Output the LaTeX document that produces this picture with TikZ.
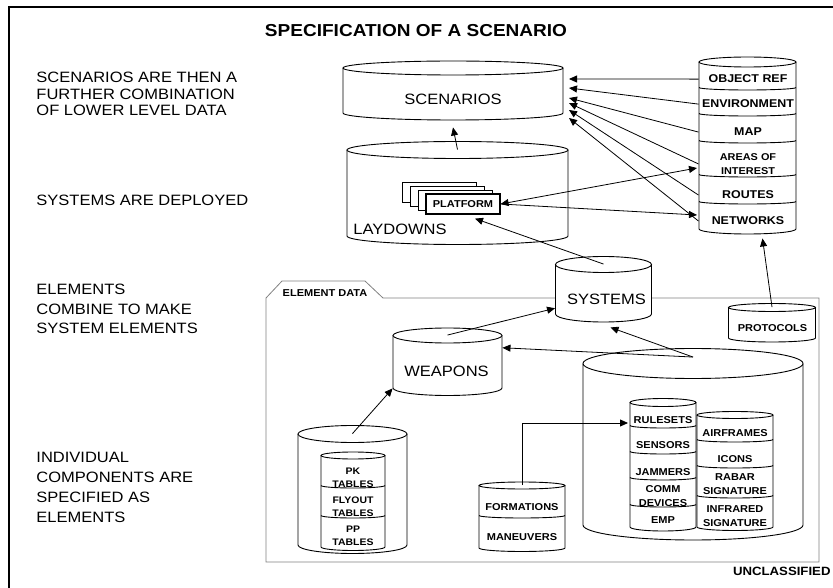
\documentclass[tikz,border=0pt]{standalone}
\usepackage{fontspec}
\setmainfont{Liberation Sans}[FakeStretch=1.1]
\usetikzlibrary{arrows.meta}

% name, cx, rx, top y, bottom y, ry
\newcommand{\dbcyl}[6]{%
  \draw[fill=white] (#2-#3,#4) -- (#2-#3,#5) arc[start angle=180,end angle=0,x radius=#3,y radius=#6] -- (#2+#3,#4);
  \draw[fill=white] (#2,#4) ellipse[x radius=#3,y radius=#6];
  \node[minimum width=2*#3,minimum height=#5-#4] (#1) at (#2,{(#4+#5)/2}) {};
}
% cx, rx, y
\newcommand{\dbsep}[3]{%
  \draw (#1-#2,#3-2.5) arc[start angle=180,end angle=0,x radius=#2,y radius=2.5];
}

\begin{document}
\begin{tikzpicture}[x=1pt, y=-1pt, line width=0.9pt,
  every node/.style={inner sep=0pt},
  note/.style={align=left, anchor=north west, font=\fontsize{15}{#1}\selectfont}, note/.default=20,
  biglbl/.style={font=\fontsize{15}{18}\selectfont},
  lbl/.style={font=\bfseries\fontsize{11.3}{14}\selectfont, align=center},
  sml/.style={font=\bfseries\fontsize{10}{14}\selectfont, align=center},
  arr/.style={-{Triangle[length=8pt,width=7pt]}},
  arrs/.style={{Triangle[length=8pt,width=7pt]}-{Triangle[length=8pt,width=7pt]}}]
\useasboundingbox (0,0) rectangle (833,588);
\draw[line width=1.2pt] (9,588) -- (9,7) -- (833,7);

\node[font=\bfseries\fontsize{17.3}{20}\selectfont, anchor=base] (title) at (416,37) {SPECIFICATION OF A SCENARIO};

% left column
\node[note=16.5] (n1) at (36,72) {SCENARIOS ARE THEN A\\FURTHER COMBINATION\\OF LOWER LEVEL DATA};
\node[note] (n2) at (36,195) {SYSTEMS ARE DEPLOYED};
\node[note=19.5] (n3) at (36,284) {ELEMENTS\\COMBINE TO MAKE\\SYSTEM ELEMENTS};
\node[note=20] (n4) at (36,452) {INDIVIDUAL\\COMPONENTS ARE\\SPECIFIED AS\\ELEMENTS};

% element data folder
\draw[gray, line width=0.8pt] (266,562) -- (266,298) -- (282,281) -- (365,281) -- (383,298) -- (819,298) -- (819,562) -- cycle;
\node[sml, anchor=base] (eldata) at (325,296) {ELEMENT DATA};

% scenarios and laydowns
\dbcyl{scen}{453}{110}{68}{113}{7}
\node[biglbl, anchor=base] at (453,105) {SCENARIOS};
\dbcyl{lay}{457.5}{110.5}{150}{236}{8.5}
\node[biglbl, anchor=base west] at (353,235) {LAYDOWNS};
\foreach \i in {0,1,2}
  \draw[fill=white] (402+8*\i,182+4*\i) rectangle ++(74,20);
\node[draw, fill=white, line width=1.2pt, minimum width=74, minimum height=20, sml] (plat) at (463,204) {PLATFORM};

% right stack
\dbcyl{stack}{747.5}{48.5}{62}{229}{5}
\foreach \y in {90,116,143,177,204} {\dbsep{747.5}{48.5}{\y}}
\node[lbl, anchor=base] (objref) at (748,83) {OBJECT REF};
\node[lbl, anchor=base] (env) at (748,108) {ENVIRONMENT};
\node[lbl, anchor=base] (map) at (748,136) {MAP};
\node[sml, font=\bfseries\fontsize{9.9}{14}\selectfont] (areas) at (748,164) {AREAS OF\\INTEREST};
\node[lbl, anchor=base] (routes) at (748,199) {ROUTES};
\node[lbl, anchor=base] (nets) at (748,225) {NETWORKS};

% systems, weapons, protocols
\dbcyl{sys}{603.5}{48}{264.5}{314}{8}
\node[biglbl, anchor=base] at (606.5,305) {SYSTEMS};
\dbcyl{weap}{447.5}{54.5}{335.5}{388}{7.5}
\node[biglbl, anchor=base] at (446.5,376) {WEAPONS};
\dbcyl{prot}{772}{43.5}{307.5}{338}{4}
\node[sml, anchor=base] at (772.5,331) {PROTOCOLS};

% big element cylinder
\dbcyl{big}{693}{110}{363.5}{525}{15}
\dbcyl{st1}{663}{33}{402.5}{527}{4}
\foreach \y in {428,454,480,507} {\dbsep{663}{33}{\y}}
\node[sml, anchor=base] (rules) at (663,423) {RULESETS};
\node[sml, anchor=base] at (663,448) {SENSORS};
\node[sml, anchor=base] at (663,475) {JAMMERS};
\node[sml] at (663,496) {COMM\\DEVICES};
\node[sml, anchor=base] at (663,523) {EMP};
\dbcyl{st2}{735}{38}{415}{527}{3.5}
\foreach \y in {442,468,498} {\dbsep{735}{38}{\y}}
\node[sml, anchor=base] at (735,436) {AIRFRAMES};
\node[sml, anchor=base] at (735,462) {ICONS};
\node[sml] at (735,484.5) {RABAR\\SIGNATURE};
\node[sml] at (735,516.5) {INFRARED\\SIGNATURE};

% formations
\dbcyl{form}{522}{43}{485.5}{548}{3.5}
\dbsep{522}{43}{518}
\node[sml, anchor=base] at (522,510) {FORMATIONS};
\node[sml, anchor=base] at (522,540) {MANEUVERS};

% pk tables
\dbcyl{pk}{352.5}{54.5}{434}{545}{8.5}
\dbcyl{pkin}{353}{32}{455.5}{547}{3.5}
\foreach \y in {488,518} {\dbsep{353}{32}{\y}}
\node[sml, font=\bfseries\fontsize{9.5}{13}\selectfont] at (353,477.5) {PK\\TABLES};
\node[sml, font=\bfseries\fontsize{9.5}{13}\selectfont] at (353,507) {FLYOUT\\TABLES};
\node[sml, font=\bfseries\fontsize{9.5}{13}\selectfont] at (353,536) {PP\\TABLES};

\node[font=\bfseries\fontsize{12}{14}\selectfont, anchor=base east] (uncl) at (831,575) {UNCLASSIFIED};

% connectors
\coordinate (ai) at (697,168);
\coordinate (nw) at (697,215);
\coordinate (rs) at (628,423);
\foreach \s/\t in {objref/79,env/88,map/98,areas/103,routes/110,nets/118}
  \draw[arr, line width=0.8pt] (stack.west |- \s) -- (569,\t);
\draw[arrs, line width=0.8pt] (plat.east) -- (ai);
\draw[arr, line width=0.8pt] (plat.east) -- (nw);
\draw[arr, line width=0.8pt] (lay.north) -- ([yshift=-14pt]scen.south);
\draw[arr, line width=0.8pt] (sys.north) -- ([xshift=12pt,yshift=-4pt]plat.south);
\draw[arr, line width=0.8pt] (prot.north) -- ([xshift=15pt,yshift=-9pt]stack.south);
\draw[arr, line width=0.8pt] (weap.north) -- ([yshift=-19pt]sys.west);
\draw[arr, line width=0.8pt] ([yshift=6pt]big.north) -- ([yshift=14pt]weap.east);
\draw[arr, line width=0.8pt] ([yshift=6pt]big.north) -- ([xshift=7pt,yshift=-13pt]sys.south);
\draw[arr, line width=0.8pt] (pk.north) -- (weap.south west);
\draw[arr, line width=0.8pt] (form.north) |- (rs);
\end{tikzpicture}
\end{document}
